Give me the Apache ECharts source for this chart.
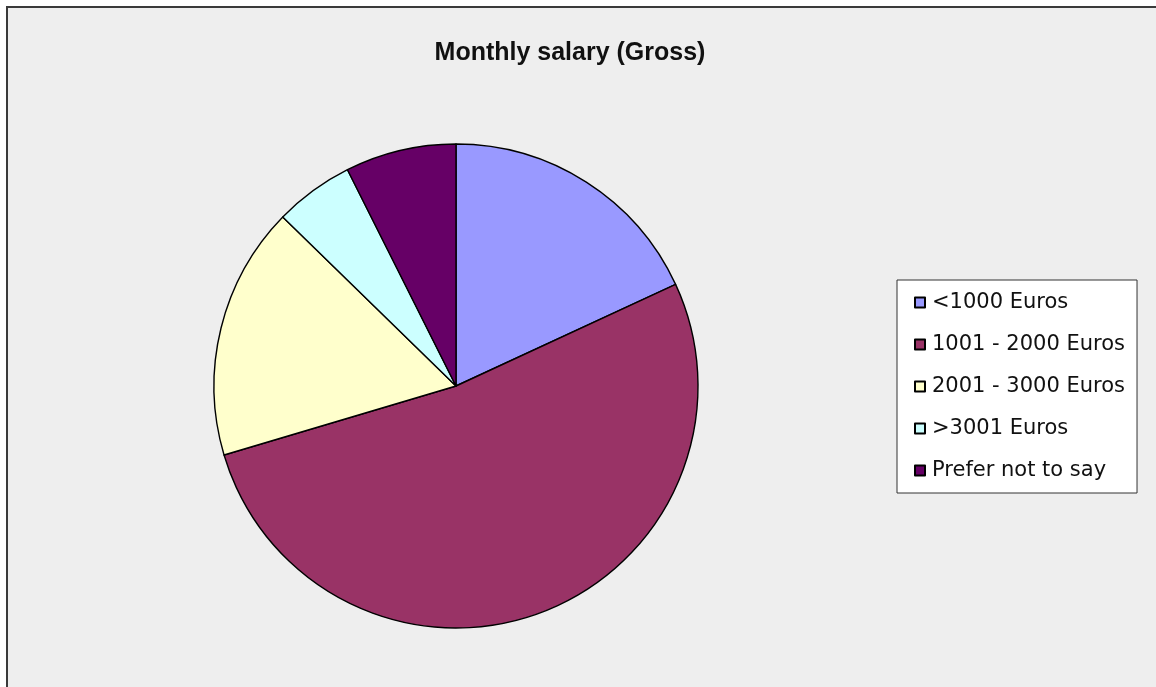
<!DOCTYPE html>
<html>
<head>
<meta charset="utf-8">
<script src="https://cdn.jsdelivr.net/npm/echarts@6/dist/echarts.min.js"></script>
<style>
  html, body { margin: 0; padding: 0; background: #ffffff; }
  #frame {
    position: absolute; left: 6px; top: 6px; width: 1150px; height: 681px;
    background: #eeeeee; border-top: 2px solid #3a3a3a; border-left: 2px solid #3a3a3a;
    box-sizing: border-box;
  }
  #chart { position: absolute; left: 0; top: 0; width: 1156px; height: 687px; }
</style>
</head>
<body>
<div id="frame"></div>
<div id="chart"></div>
<script>
// Share of respondents by gross monthly salary band (%)
const categories = ['<1000 Euros', '1001 - 2000 Euros', '2001 - 3000 Euros', '>3001 Euros', 'Prefer not to say'];
const shares = [18.1, 52.3, 16.9, 5.3, 7.4];
const colors = ['#9999FF', '#993366', '#FFFFCC', '#CCFFFF', '#660066'];

const chart = echarts.init(document.getElementById('chart'), null, { renderer: 'canvas' });

chart.setOption({
  backgroundColor: 'transparent',
  animation: false,
  title: {
    text: 'Monthly salary (Gross)',
    left: 565, top: 36, textAlign: 'center',
    textStyle: { fontFamily: 'Liberation Sans, Arial, sans-serif', fontSize: 25, fontWeight: 'bold', color: '#111' }
  },
  legend: {
    orient: 'vertical',
    left: 897, top: 280,
    padding: [12, 12, 12, 17],
    backgroundColor: '#ffffff',
    borderColor: '#333333', borderWidth: 1,
    itemWidth: 10, itemHeight: 10,
    itemGap: 21,
    icon: 'rect',
    textStyle: { fontFamily: 'DejaVu Sans, sans-serif', fontSize: 21, color: '#111', padding: [0, 0, 0, 2], lineHeight: 21 },
    data: categories
  },
  series: [{
    type: 'pie',
    center: [456, 386],
    radius: 242,
    startAngle: 90,
    clockwise: true,
    label: { show: false },
    labelLine: { show: false },
    emphasis: { disabled: true },
    itemStyle: { borderColor: '#000', borderWidth: 1.4 },
    data: categories.map((name, i) => ({ name, value: shares[i], itemStyle: { color: colors[i] } }))
  }]
});
</script>
</body>
</html>
